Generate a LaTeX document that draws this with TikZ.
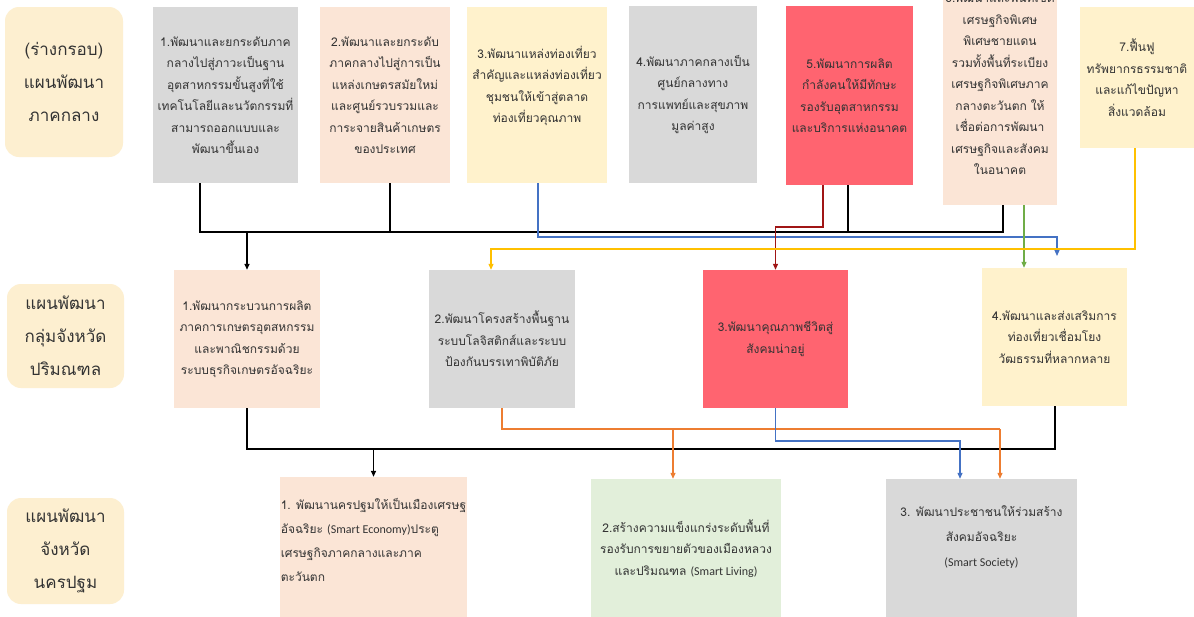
\documentclass[tikz,border=0pt]{standalone}
\usepackage{fontspec}
\setmainfont{Loma}[Script=Thai]
\newfontfamily\lat{Carlito}
\usetikzlibrary{arrows.meta}
\definecolor{cgray}{HTML}{D9D9D9}
\definecolor{cpeach}{HTML}{FBE5D6}
\definecolor{cyel}{HTML}{FFF2CC}
\definecolor{cred}{HTML}{FF6470}
\definecolor{cgreen}{HTML}{E2EFDA}
\definecolor{clabel}{HTML}{FDEFD0}
\definecolor{ctext}{HTML}{333333}
\definecolor{lblue}{HTML}{4472C4}
\definecolor{ldred}{HTML}{A01515}
\definecolor{lorange}{HTML}{ED7D31}
\definecolor{lyellow}{HTML}{FFC000}
\definecolor{lgreen}{HTML}{70AD47}
\tikzset{
  boxtext/.style={font=\fontsize{12}{21.5}\selectfont, text=ctext, align=center, inner sep=0pt},
  planbox/.style={boxtext, rectangle, draw=none},
  lvlbox/.style={rectangle, rounded corners=14pt, fill=clabel, inner sep=0pt, text=ctext,
    font=\fontsize{17}{33}\selectfont, align=center},
  tip/.style={-{Triangle[length=6pt,width=5pt]}},
  blk/.style={draw=black, line width=1.4pt},
  blkarr/.style={blk, tip},
  conn/.style={line width=1.2pt, tip},
}
\begin{document}
\begin{tikzpicture}[x=1pt,y=-1pt]
\useasboundingbox[fill=white] (0,0) rectangle (1194,616);

% level labels
\node[lvlbox, minimum width=118pt, minimum height=150pt] (l1) at (64,82) {(ร่างกรอบ)\\แผนพัฒนา\\ภาคกลาง};
\node[lvlbox, minimum width=117pt, minimum height=104pt] (l2) at (65.5,336) {แผนพัฒนา\\กลุ่มจังหวัด\\ปริมณฑล};
\node[lvlbox, minimum width=117pt, minimum height=106pt] (l3) at (65.5,551) {แผนพัฒนา\\จังหวัด\\นครปฐม};

% top row
\node[planbox, fill=cgray, minimum width=145pt, minimum height=176pt] (t1) at (225.5,95)
  {1.พัฒนาและยกระดับภาค\\กลางไปสู่ภาวะเป็นฐาน\\อุตสาหกรรมขั้นสูงที่ใช้\\เทคโนโลยีและนวัตกรรมที่\\สามารถออกแบบและ\\พัฒนาขึ้นเอง};
\node[planbox, fill=cpeach, minimum width=130pt, minimum height=176pt] (t2) at (385,95)
  {2.พัฒนาและยกระดับ\\ภาคกลางไปสู่การเป็น\\แหล่งเกษตรสมัยใหม่\\และศูนย์รวบรวมและ\\การะจายสินค้าเกษตร\\ของประเทศ};
\node[planbox, fill=cyel, minimum width=140pt, minimum height=176pt] (t3) at (537,95)
  {3.พัฒนาแหล่งท่องเที่ยว\\สำคัญและแหล่งท่องเที่ยว\\ชุมชนให้เข้าสู่ตลาด\\ท่องเที่ยวคุณภาพ\\\mbox{}};
\node[planbox, fill=cgray, minimum width=128pt, minimum height=177pt] (t4) at (693,94.5)
  {4.พัฒนาภาคกลางเป็น\\ศูนย์กลางทาง\\การแพทย์และสุขภาพ\\มูลค่าสูง};
\node[planbox, fill=cred, minimum width=127pt, minimum height=179pt] (t5) at (849.5,95.5)
  {5.พัฒนาการผลิต\\กำลังคนให้มีทักษะ\\รองรับอุตสาหกรรม\\และบริการแห่งอนาคต};
\node[planbox, fill=cpeach, minimum width=114pt, minimum height=245pt] (t6) at (1000,82.5)
  {6.พัฒนาและพื้นที่เขต\\เศรษฐกิจพิเศษ\\พิเศษชายแดน\\รวมทั้งพื้นที่ระเบียง\\เศรษฐกิจพิเศษภาค\\กลางตะวันตก ให้\\เชื่อต่อการพัฒนา\\เศรษฐกิจและสังคม\\ในอนาคต};
\node[planbox, fill=cyel, minimum width=114pt, minimum height=141pt] (t7) at (1137,77.5)
  {7.ฟื้นฟู\\ทรัพยากรธรรมชาติ\\และแก้ไขปัญหา\\สิ่งแวดล้อม};

% middle row
\node[planbox, fill=cpeach, minimum width=146pt, minimum height=138pt] (m1) at (247,339)
  {1.พัฒนากระบวนการผลิต\\ภาคการเกษตรอุตสหกรรม\\และพาณิชกรรมด้วย\\ระบบธุรกิจเกษตรอัจฉริยะ};
\node[planbox, fill=cgray, minimum width=146pt, minimum height=138pt] (m2) at (502,339)
  {2.พัฒนาโครงสร้างพื้นฐาน\\ระบบโลจิสติกส์และระบบ\\ป้องกันบรรเทาพิบัติภัย};
\node[planbox, fill=cred, minimum width=145pt, minimum height=138pt] (m3) at (775.5,339)
  {3.พัฒนาคุณภาพชีวิตสู่\\สังคมน่าอยู่};
\node[planbox, fill=cyel, minimum width=145pt, minimum height=138pt] (m4) at (1054.5,337)
  {4.พัฒนาและส่งเสริมการ\\ท่องเที่ยวเชื่อมโยง\\วัฒธรรมที่หลากหลาย};

% bottom row
\node[planbox, fill=cpeach, minimum width=187pt, minimum height=141pt, align=left, font=\fontsize{12}{24}\selectfont] (b1) at (373.5,547.5)
  {1. พัฒนานครปฐมให้เป็นเมืองเศรษฐ\\อัจฉริยะ {\lat (Smart Economy)}ประตู\\เศรษฐกิจภาคกลางและภาค\\ตะวันตก\\[-9pt]\mbox{}};
\node[planbox, fill=cgreen, minimum width=190pt, minimum height=139pt] (b2) at (686,548.5)
  {2.สร้างความแข็งแกร่งระดับพื้นที่\\รองรับการขยายตัวของเมืองหลวง\\และปริมณฑล {\lat (Smart Living)}};
\node[planbox, fill=cgray, minimum width=191pt, minimum height=139pt, font=\fontsize{12}{25}\selectfont] (b3) at (981.5,548.5)
  {3. พัฒนาประชาชนให้ร่วมสร้าง\\สังคมอัจฉริยะ\\{\lat (Smart Society)}\\\mbox{}};

% junction coordinates, top connectors
\coordinate (ta) at (200,232);
\coordinate (tb) at (390,232);
\coordinate (tc) at (848,232);
\coordinate (td) at (1003,232);
\coordinate (te) at (247,232);
\coordinate (ba) at (538,237);
\coordinate (bb) at (1057,237);
\coordinate (bc) at (1057,256);
\coordinate (ra) at (823,227);
\coordinate (rb) at (775.5,227);
\coordinate (ga) at (1024,230);
\coordinate (ya) at (1135,249);
\coordinate (yb) at (491,249);

\draw[blk] (t1.south -| ta) -- (ta) -- (td) -- (t6.south -| td);
\draw[blk] (t2.south -| tb) -- (tb);
\draw[blk] (t5.south -| tc) -- (tc);
\draw[blkarr] (te) -- (m1.north);
\draw[conn, draw=lblue] (t3.south -| ba) -- (ba) -- (bb) -- (bc);
\draw[conn, draw=ldred] (t5.south -| ra) -- (ra) -- (rb) -- (m3.north);
\draw[conn, draw=lgreen] (t6.south -| ga) -- (m4.north -| ga);
\draw[conn, draw=lyellow] (t7.south -| ya) -- (ya) -- (yb) -- (m2.north -| yb);

% bottom connectors
\coordinate (ka) at (247,449);
\coordinate (kb) at (1055,449);
\coordinate (kc) at (373.5,449);
\coordinate (oa) at (502,429);
\coordinate (ob) at (1000,429);
\coordinate (oc) at (673,429);
\coordinate (ua) at (775.5,441);
\coordinate (ub) at (960,441);

\draw[blk] (m1.south) -- (ka) -- (kb) -- (m4.south -| kb);
\draw[blkarr] (kc) -- (b1.north);
\draw[line width=1.2pt, draw=lorange] (m2.south) -- (oa) -- (ob);
\draw[conn, draw=lorange] (ob) -- (b3.north -| ob);
\draw[conn, draw=lorange] (oc) -- (b2.north -| oc);
\draw[conn, draw=lblue] (m3.south) -- (ua) -- (ub) -- (b3.north -| ub);
\end{tikzpicture}
\end{document}
